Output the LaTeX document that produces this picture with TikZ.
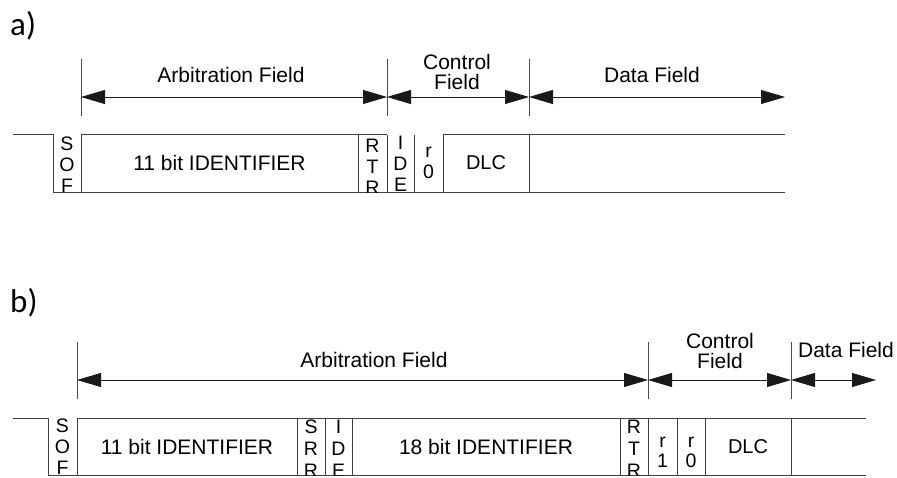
\documentclass[tikz,border=0pt]{standalone}
\usepackage{fontspec}
\setmainfont{Liberation Sans}
\newfontfamily\partfont{Carlito}
\usepackage{tikz}
\usetikzlibrary{arrows.meta}

\begin{document}
\begin{tikzpicture}[
  x=1pt, y=-1pt,
  frame/.style={draw=black!75, line width=1pt},
  tick/.style={draw=black!70, line width=0.9pt},
  span/.style={{Triangle[length=24pt,width=14pt]}-{Triangle[length=24pt,width=14pt]}, line width=0.8pt, black!90},
  fieldlbl/.style={inner sep=0, align=center, anchor=south, font=\fontsize{21}{20}\selectfont},
  celltxt/.style={inner sep=0, font=\fontsize{21}{24}\selectfont},
  bitcol/.style={inner sep=0, align=center, anchor=north, font=\fontsize{19.5}{#1}\selectfont},
  bitcol/.default=21,
  partlbl/.style={inner sep=0, anchor=base west, font=\partfont\fontsize{33}{33}\selectfont}
]
\useasboundingbox (0,0) rectangle (897,478);

% a) standard frame
\node[partlbl] (lblA) at (10,36) {a)};
\foreach \x in {81,387,529}
  \draw[tick] (\x,59) -- (\x,116);
\coordinate (aS) at (81,97);
\coordinate (aR) at (387,97);
\coordinate (aC) at (529,97);
\coordinate (aE) at (785,97);
\draw[span] (aS) -- (aR);
\draw[span] (aR) -- (aC);
\draw[span] (aC) -- (aE);
\node[fieldlbl] (arbA) at (231,83) {Arbitration Field};
\node[fieldlbl] (ctrlA) at (457,90) {Control\\Field};
\node[fieldlbl] (dataA) at (652,83) {Data Field};

\draw[frame] (13,135) -- (53,135) -- (53,192.5) -- (785,192.5);
\draw[frame] (81,135) -- (387,135) (443,135) -- (785,135);
\foreach \x in {81,358,387,414,443,529}
  \draw[frame] (\x,135) -- (\x,192.5);
\node[celltxt] (idA) at (219.5,163) {11 bit IDENTIFIER};
\node[celltxt, font=\fontsize{20}{24}\selectfont] (dlcA) at (486,163) {DLC};
\begin{scope}
  \clip (0,135) rectangle (897,192.5);
  \node[bitcol] (sofA) at (67,136.5) {S\\O\\F};
  \node[bitcol] (rtrA) at (372.5,139) {R\\T\\R};
  \node[bitcol] (ideA) at (400.5,135.5) {I\\D\\E};
  \node[bitcol] (rzA) at (428.5,147) {r\\0};
\end{scope}

% b) extended frame
\node[partlbl] (lblB) at (10,313) {b)};
\foreach \x in {77,648,791}
  \draw[tick] (\x,342) -- (\x,399);
\coordinate (bS) at (77,380);
\coordinate (bR) at (648,380);
\coordinate (bC) at (791,380);
\coordinate (bE) at (876,380);
\draw[span] (bS) -- (bR);
\draw[span] (bR) -- (bC);
\draw[span] (bC) -- (bE);
\node[fieldlbl] (arbB) at (374,368) {Arbitration Field};
\node[fieldlbl] (ctrlB) at (720,369) {Control\\Field};
\node[fieldlbl] (dataB) at (846,358) {Data Field};

\draw[frame] (13,418) -- (48,418) -- (48,475) -- (866,475);
\draw[frame] (77,418) -- (866,418);
\foreach \x in {77,297,325,352,620,648,677,705,791}
  \draw[frame] (\x,418) -- (\x,475);
\node[celltxt] (idB) at (187,446.5) {11 bit IDENTIFIER};
\node[celltxt] (extB) at (486,446.5) {18 bit IDENTIFIER};
\node[celltxt, font=\fontsize{20}{24}\selectfont] (dlcB) at (748,446.5) {DLC};
\begin{scope}
  \clip (0,418) rectangle (897,475);
  \node[bitcol=21] (sofB) at (62.5,419) {S\\O\\F};
  \node[bitcol=22] (srrB) at (311,420) {S\\R\\R};
  \node[bitcol=22] (ideB) at (338.5,420) {I\\D\\E};
  \node[bitcol=22] (rtrB) at (634,420) {R\\T\\R};
  \node[bitcol=19.5] (roB) at (662.5,437) {r\\1};
  \node[bitcol=19.5] (rzB) at (691,437) {r\\0};
\end{scope}
\end{tikzpicture}
\end{document}
